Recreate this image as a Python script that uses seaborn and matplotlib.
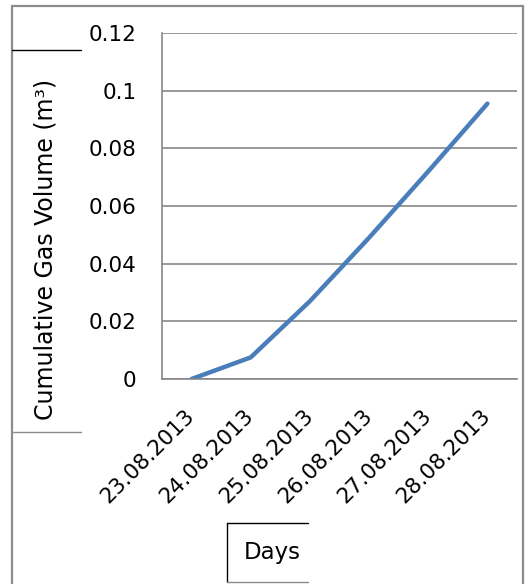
import matplotlib
matplotlib.use("Agg")
import matplotlib.pyplot as plt
from matplotlib.patches import Rectangle
from matplotlib.lines import Line2D
import seaborn as sns
import pandas as pd

# Daily cumulative gas production
days = ["23.08.2013", "24.08.2013", "25.08.2013", "26.08.2013", "27.08.2013", "28.08.2013"]
gas_volume = [0.0, 0.0075, 0.027, 0.049, 0.072, 0.0955]
y_ticks = [0, 0.02, 0.04, 0.06, 0.08, 0.1, 0.12]
y_tick_labels = ["0", "0.02", "0.04", "0.06", "0.08", "0.1", "0.12"]

sns.set_style("white")
plt.rcParams["font.family"] = ["DejaVu Sans"]
plt.rcParams["text.color"] = "black"
plt.rcParams["xtick.labelcolor"] = "black"
plt.rcParams["ytick.labelcolor"] = "black"

df = pd.DataFrame({"day": days, "volume": gas_volume})

fig = plt.figure(figsize=(5.25, 5.84), dpi=100)
ax = fig.add_axes([162 / 525, 1 - 379 / 584, (517 - 162) / 525, (379 - 33) / 584])

grid_c = "#878787"
sns.lineplot(data=df, x="day", y="volume", sort=False, ax=ax,
             color="#4a7ebb", linewidth=3.2, solid_capstyle="round",
             solid_joinstyle="round")

ax.set_xlim(-0.5, len(days) - 0.5)
ax.set_ylim(0, 0.12)
ax.set_yticks(y_ticks)
ax.set_yticklabels(y_tick_labels)
ax.yaxis.grid(True, color=grid_c, linewidth=1.2)
ax.xaxis.grid(False)

# category labels at centres, tick marks at category boundaries
ax.set_xticks(range(len(days)))
ax.set_xticklabels(days, rotation=45, ha="right", va="center",
                   rotation_mode="anchor")
ax.set_xticks([i - 0.5 for i in range(len(days) + 1)], minor=True)
ax.tick_params(axis="x", which="major", length=0, pad=24, labelsize=15.5,
               labelcolor="black")
ax.tick_params(axis="x", which="minor", length=6, width=1.2, color=grid_c,
               direction="out")
ax.tick_params(axis="y", length=6.5, width=1.2, color=grid_c, pad=12,
               labelsize=15.5, labelcolor="black")

for side in ("top", "right"):
    ax.spines[side].set_visible(False)
for side in ("left", "bottom"):
    ax.spines[side].set_color(grid_c)
    ax.spines[side].set_linewidth(1.2)

ax.set_xlabel("")
ax.set_ylabel("")

# outer chart border
W, H = 525, 584
def fx(px):
    return px / W
def fy(py):
    return 1 - py / H

fig.patches.append(Rectangle((fx(12), fy(595)), fx(523) - fx(12), fy(6) - fy(595),
                             transform=fig.transFigure, fill=False,
                             edgecolor="#8c8c8c", linewidth=1.6))

# axis title boxes
fig.lines.append(Line2D([fx(12), fx(81)], [fy(50), fy(50)], transform=fig.transFigure,
                        color="black", linewidth=1.0))
fig.lines.append(Line2D([fx(12), fx(81)], [fy(432), fy(432)], transform=fig.transFigure,
                        color="#8c8c8c", linewidth=1.0))
fig.text(fx(46), fy(249), "Cumulative Gas Volume (m\u00b3)", rotation=90,
         ha="center", va="center", fontsize=17, color="black")

fig.lines.append(Line2D([fx(227), fx(308)], [fy(523), fy(523)], transform=fig.transFigure,
                        color="black", linewidth=1.0))
fig.lines.append(Line2D([fx(227), fx(227)], [fy(523), fy(582)], transform=fig.transFigure,
                        color="black", linewidth=1.0))
fig.lines.append(Line2D([fx(227), fx(308)], [fy(582), fy(582)], transform=fig.transFigure,
                        color="#8c8c8c", linewidth=1.0))
fig.text(fx(272), fy(553), "Days", ha="center", va="center", fontsize=16.5,
         color="black")

fig.savefig("out.png", dpi=100)
